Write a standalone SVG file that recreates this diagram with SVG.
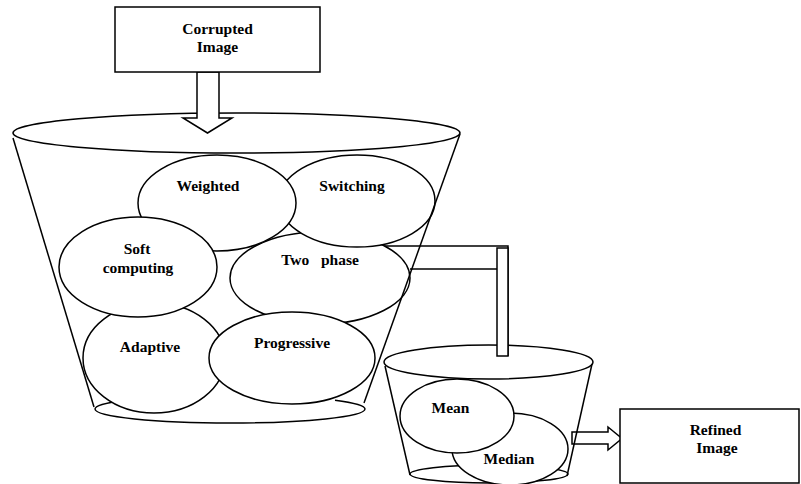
<svg xmlns="http://www.w3.org/2000/svg" width="801" height="484" viewBox="0 0 801 484">
  <style>
    .s { fill: #fff; stroke: #000; stroke-width: 1.5; }
    .l { fill: none; stroke: #000; stroke-width: 1.5; }
    .t { font-family: "Liberation Serif", "Times New Roman", serif; font-weight: bold; font-size: 15.5px; fill: #000; text-anchor: middle; }
  </style>
  <rect width="801" height="484" fill="#fff"/>

  <!-- large filter bucket: rim and base (base's back edge mostly hidden) -->
  <g id="bucket-large">
    <ellipse class="s" cx="236.5" cy="133" rx="223.5" ry="20"/>
    <path class="l" d="M125,400.2 A135,14 0 0 0 95,409 A135,14 0 0 0 365,409 A135,14 0 0 0 335,400.2"/>
  </g>

  <!-- small filter bucket: rim and base -->
  <g id="bucket-small">
    <ellipse class="s" cx="488.5" cy="362" rx="104.5" ry="17"/>
    <ellipse class="s" cx="489" cy="474" rx="79" ry="9"/>
  </g>

  <g id="connectors">
    <!-- input arrow into the large bucket -->
    <path class="s" d="M197,72 V118 H183 L207.5,133 L232,118 H219 V72 Z"/>
    <!-- pipe from the large bucket to the small bucket -->
    <path class="l" d="M385,246 H508 V356"/>
    <path class="l" d="M410,269 H497"/>
    <rect class="s" x="497" y="248" width="11" height="108"/>
    <!-- output arrow to refined image -->
    <path class="s" d="M572,432 H608 V427 L622,438.5 L608,450 V444 H572 Z"/>
  </g>

  <!-- filter families inside the large bucket -->
  <g id="two-phase">
    <ellipse class="s" cx="320" cy="278" rx="90" ry="46"/>
    <text class="t" x="320" y="265" xml:space="preserve" style="white-space:pre">Two   phase</text>
  </g>
  <g id="switching">
    <ellipse class="s" cx="357" cy="201" rx="78" ry="46"/>
    <text class="t" x="352" y="191">Switching</text>
  </g>
  <g id="weighted">
    <ellipse class="s" cx="217" cy="203" rx="79" ry="48"/>
    <text class="t" x="208" y="191">Weighted</text>
  </g>
  <g id="adaptive">
    <ellipse class="s" cx="154" cy="358" rx="71" ry="55"/>
    <text class="t" x="150" y="352">Adaptive</text>
  </g>
  <g id="soft-computing">
    <ellipse class="s" cx="138" cy="267" rx="79" ry="50"/>
    <text class="t" x="137" y="254">Soft</text>
    <text class="t" x="138" y="273">computing</text>
  </g>
  <g id="progressive">
    <ellipse class="s" cx="292" cy="358" rx="83" ry="46"/>
    <text class="t" x="292" y="348">Progressive</text>
  </g>

  <!-- filters inside the small bucket -->
  <g id="median">
    <ellipse class="s" cx="510" cy="449" rx="58" ry="36"/>
    <text class="t" x="509" y="464">Median</text>
  </g>
  <g id="mean">
    <ellipse class="s" cx="457" cy="416" rx="57" ry="37"/>
    <text class="t" x="450.5" y="413">Mean</text>
  </g>

  <!-- bucket walls -->
  <g id="bucket-walls">
    <path class="l" d="M13,138 L94,407"/>
    <path class="l" d="M460,134 L364,403"/>
    <path class="l" d="M385,366 L410,475"/>
    <path class="l" d="M592,364 L567,476"/>
  </g>

  <!-- input and output boxes -->
  <g id="corrupted-image">
    <rect class="s" x="115" y="7" width="205" height="65"/>
    <text class="t" x="217.5" y="34">Corrupted</text>
    <text class="t" x="217.5" y="52">Image</text>
  </g>
  <g id="refined-image">
    <rect class="s" x="620" y="409" width="179" height="74"/>
    <text class="t" x="715.5" y="435">Refined</text>
    <text class="t" x="717" y="453">Image</text>
  </g>
</svg>
